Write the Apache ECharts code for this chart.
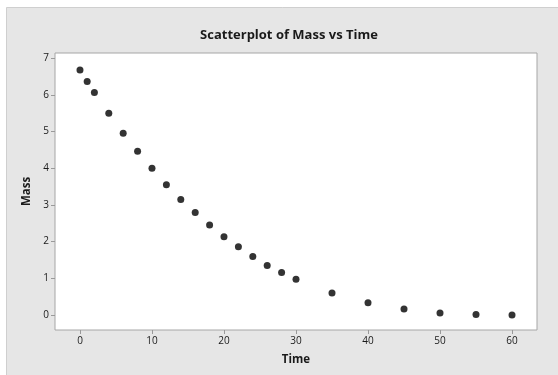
<!DOCTYPE html>
<html>
<head>
<meta charset="utf-8">
<script src="https://cdn.jsdelivr.net/npm/echarts@6/dist/echarts.min.js"></script>
<style>html,body{margin:0;padding:0;background:#fff}#c{width:558px;height:375px}</style>
</head>
<body>
<div id="c"></div>
<script>
var timeValues = [0, 1, 2, 4, 6, 8, 10, 12, 14, 16, 18, 20, 22, 24, 26, 28, 30, 35, 40, 45, 50, 55, 60];
var massValues = [6.68, 6.36, 6.06, 5.50, 4.95, 4.46, 4.00, 3.55, 3.15, 2.79, 2.45, 2.13, 1.86, 1.59, 1.35, 1.16, 0.97, 0.60, 0.33, 0.16, 0.05, 0.01, 0.00];
var xTicks = [0, 10, 20, 30, 40, 50, 60];
var yTicks = [0, 1, 2, 3, 4, 5, 6, 7];
var titleText = 'Scatterplot of Mass vs Time';
var xName = 'Time';
var yName = 'Mass';

var points = timeValues.map(function (t, i) { return [t, massValues[i]]; });
var font = '"Open Sans", "Noto Sans", sans-serif';
var chart = echarts.init(document.getElementById('c'), null, {renderer: 'canvas'});
chart.setOption({
  animation: false,
  backgroundColor: '#ffffff',
  graphic: [{
    type: 'rect', z: -10, silent: true,
    shape: {x: 6.5, y: 7.5, width: 560, height: 380},
    style: {fill: '#e6e6e6', stroke: '#cfcfcf', lineWidth: 1}
  }],
  title: {
    text: titleText, left: 284, top: 24, textAlign: 'center',
    textStyle: {fontFamily: font, fontSize: 13, fontWeight: 'bold', color: '#1a1a1a'}
  },
  grid: {left: 55, top: 53, right: 21, bottom: 45, show: true, backgroundColor: '#ffffff', borderColor: '#a6a6a6', borderWidth: 1},
  xAxis: {
    type: 'value', min: -3.47, max: 63.47,
    name: xName, nameLocation: 'middle', nameGap: 24,
    nameTextStyle: {fontFamily: font, fontSize: 11.5, fontWeight: 'bold', color: '#1a1a1a'},
    axisLine: {show: false, onZero: false},
    splitLine: {show: false},
    axisTick: {show: true, inside: false, customValues: xTicks, length: 4, lineStyle: {color: '#9a9a9a'}},
    axisLabel: {customValues: xTicks, fontFamily: font, fontSize: 10, color: '#1a1a1a', margin: 6}
  },
  yAxis: {
    type: 'value', min: -0.41, max: 7.14,
    name: yName, nameLocation: 'middle', nameGap: 17, nameRotate: 90,
    nameTextStyle: {fontFamily: font, fontSize: 11.5, fontWeight: 'bold', color: '#1a1a1a'},
    axisLine: {show: false, onZero: false},
    splitLine: {show: false},
    axisTick: {show: true, inside: false, customValues: yTicks, length: 4, lineStyle: {color: '#9a9a9a'}},
    axisLabel: {customValues: yTicks, fontFamily: font, fontSize: 10, color: '#1a1a1a', margin: 6}
  },
  series: [{
    type: 'scatter', data: points, symbol: 'circle', symbolSize: 7,
    itemStyle: {color: '#000000'}
  }]
});
</script>
</body>
</html>
